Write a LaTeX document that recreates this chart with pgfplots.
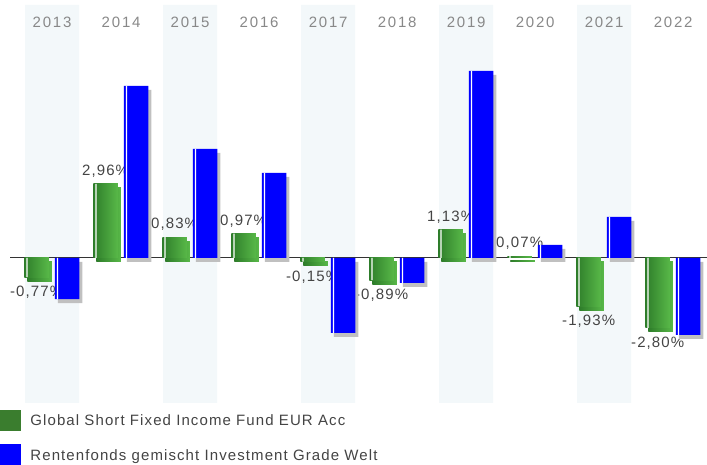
\documentclass[border=0pt]{standalone}
\usepackage{fontspec}
\setmainfont{Liberation Sans}
\newfontfamily\yearfont[LetterSpace=12]{Liberation Sans}
\newfontfamily\labfont[LetterSpace=7.3]{Liberation Sans}
\usepackage{pgfplots}
\pgfplotsset{compat=1.18}
\usepackage{pgfplotstable}
\definecolor{bandcol}{HTML}{F3F8FA}
\definecolor{yeargray}{HTML}{888888}
\definecolor{txtgray}{HTML}{444444}
\definecolor{gdark}{HTML}{2E7D2A}
\definecolor{glight}{HTML}{58B848}
\definecolor{gleg}{HTML}{3A7D2E}
\definecolor{bblue}{HTML}{0000FF}
\definecolor{shadowgray}{HTML}{C0C0C0}
\definecolor{basecol}{HTML}{333333}

\pgfplotstableread{
x g b
0 -0.77 -1.65
1 2.96 6.88
2 0.83 4.36
3 0.97 3.40
4 -0.15 -3.00
5 -0.89 -1.00
6 1.13 7.48
7 0.07 0.52
8 -1.93 1.64
9 -2.80 -3.08
}\data

\pgfplotstableread{
x top bot
0 10.12 -5.8
2 10.12 -5.8
4 10.12 -5.8
6 10.12 -5.8
8 10.12 -5.8
}\bands

\pgfplotsset{
  layers/mine/.define layer set={axis background,axis grid,axis ticks,axis lines,pre main,main,axis tick labels,axis descriptions,axis foreground}{},
}

\begin{document}
\begin{tikzpicture}
\begin{axis}[
  at={(10bp,62bp)}, anchor=south west,
  scale only axis, width=697bp, height=398bp,
  xmin=-0.61, xmax=9.49, ymin=-5.8, ymax=10.12,
  axis line style={draw=none},
  ytick=\empty,
  xtick={0,1,2,3,4,5,6,7,8,9},
  xticklabels={2013,2014,2015,2016,2017,2018,2019,2020,2021,2022},
  xticklabel pos=upper,
  major tick length=0pt,
  xticklabel style={anchor=center, yshift=-17bp, font=\yearfont\fontsize{15bp}{18bp}\selectfont, text=yeargray},
  set layers=mine,
  legend cell align=left,
  legend style={at={(axis description cs:-0.01435,-0.0176)}, anchor=north west,
    draw=none, fill=none, inner sep=0pt, outer sep=0pt, row sep=14bp, column sep=10bp,
    font=\labfont\fontsize{15bp}{18bp}\selectfont, text=txtgray,
    nodes={inner sep=0pt, text depth=0pt}},
]
% alternating background bands, from ymin to ymax
\addplot[ybar, bar width=54bp, bar shift=0pt, draw=none, fill=bandcol, forget plot,
  on layer=pre main] table[x=x, y=top] {\bands};
\addplot[ybar, bar width=54bp, bar shift=0pt, draw=none, fill=bandcol, forget plot,
  on layer=pre main] table[x=x, y=bot] {\bands};
% baseline
\addplot[draw=basecol, line width=1bp, forget plot, on layer=pre main] coordinates {(-0.61,0) (9.49,0)};

\pgfplotsinvokeforeach{0,1,2,3,4,5,6,7,8,9}{
\addplot[ybar, bar width=24.5bp, bar shift=-15.5bp, draw=none, forget plot,
  restrict x to domain=#1:#1,
  left color=gdark, right color=glight,
  preaction={fill=shadowgray, transform canvas={xshift=3bp,yshift=-4bp}},
  point meta=explicit,
  nodes near coords={\pgfmathprintnumber[fixed, fixed zerofill, precision=2, use comma, assume math mode=true]{\pgfplotspointmeta}\%},
  visualization depends on={\thisrow{g} \as \rawy},
  every node near coord/.append style={anchor=center, xshift=-15.5bp, yshift={ifthenelse(\rawy>0,13.05,-15.06)},
     font=\labfont\fontsize{15bp}{18bp}\selectfont, text=txtgray, inner sep=0pt},
] table[x=x, y=g, meta=g] {\data};
}

\addplot[ybar, bar width=1.3bp, bar shift=-25.1bp, draw=none, fill=white, forget plot]
  table[x=x, y=g] {\data};

\addplot[ybar, bar width=24.5bp, bar shift=15bp, draw=none, fill=bblue, forget plot,
  on layer=axis foreground,
  preaction={fill=shadowgray, transform canvas={xshift=3bp,yshift=-4bp}},
] table[x=x, y=b] {\data};

\addplot[ybar, bar width=1.3bp, bar shift=5.4bp, draw=none, fill=white, forget plot,
  on layer=axis foreground]
  table[x=x, y=b] {\data};

\addlegendimage{legend image code/.code={\fill[gleg] (0bp,-10bp) rectangle (20bp,10bp);}}
\addlegendentry{Global Short Fixed Income Fund EUR Acc}
\addlegendimage{legend image code/.code={\fill[bblue] (0bp,-10bp) rectangle (20bp,10bp);}}
\addlegendentry{Rentenfonds gemischt Investment Grade Welt}
\end{axis}
\pgfresetboundingbox
\path[use as bounding box] (0,0) rectangle (707bp,465bp);
\end{tikzpicture}
\end{document}
